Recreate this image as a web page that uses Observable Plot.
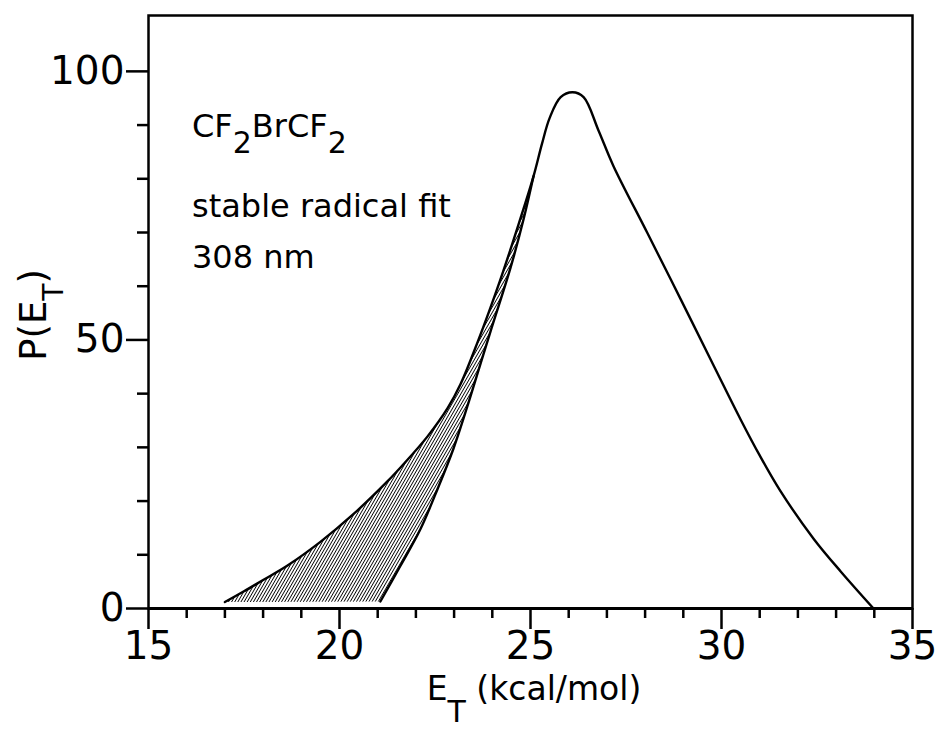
<!DOCTYPE html>
<html>
<head>
<meta charset="utf-8">
<script src="https://cdn.jsdelivr.net/npm/d3@7"></script>
<script src="https://cdn.jsdelivr.net/npm/@observablehq/plot@0.6"></script>
<style>
  html, body { margin: 0; padding: 0; background: #fff; }
</style>
</head>
<body>
<div id="chart"></div>
<script>
// Total P(E_T) curve (stable radical fit)
const upperE = [17.0, 17.5, 18.0, 18.64, 19.5, 20.37, 21.26, 21.68, 22.30, 22.83, 23.17, 23.61, 24.2, 24.7, 25.08, 25.3, 25.5, 25.79, 26.10, 26.39, 26.78, 27.17, 28.06, 28.93, 29.79, 30.5, 31.0, 31.54, 32.41, 33.12, 33.98];
const upperP = [1.2, 3.2, 5.3, 8.0, 12.4, 17.6, 23.7, 26.9, 32.0, 37.3, 41.8, 49.5, 61.0, 71.8, 80.5, 86.5, 91.3, 95.2, 96.1, 95.2, 89.0, 82.4, 69.9, 57.6, 45.3, 35.2, 28.5, 21.9, 13.0, 6.9, 0.0];
// Lower boundary of the hatched region
const lowerE = [21.07, 21.60, 22.12, 22.57, 22.98, 23.35, 23.65, 23.95, 24.48, 24.82, 25.08];
const lowerP = [1.3, 8.0, 14.8, 22.3, 29.7, 37.7, 44.6, 51.5, 63.5, 72.5, 80.5];

const xMajorTicks = [15, 20, 25, 30, 35];
const xMinorTicks = [16, 17, 18, 19, 21, 22, 23, 24, 26, 27, 28, 29, 31, 32, 33, 34];
const yMajorTicks = [0, 50, 100];
const yMinorTicks = [10, 20, 30, 40, 60, 70, 80, 90];

const upper = upperE.map((E, i) => ({E, P: upperP[i]}));
const lower = lowerE.map((E, i) => ({E, P: lowerP[i]}));
const mergeE = lowerE[lowerE.length - 1];
const hatch = upper.filter(d => d.E <= mergeE).concat(lower.slice().reverse());

const font = "'DejaVu Sans', sans-serif";

const plot = Plot.plot({
  width: 938,
  height: 740,
  marginLeft: 148,
  marginRight: 26,
  marginTop: 15,
  marginBottom: 132,
  x: {domain: [15, 35], label: null},
  y: {domain: [0, 110.4], label: null},
  style: {fontFamily: font, fontSize: "39px", color: "#000", background: "#fff", overflow: "visible"},
  marks: [
    Plot.line(hatch, {x: "E", y: "P", fill: "url(#hatch)", stroke: "none", curve: "linear"}),
    Plot.line(lower, {x: "E", y: "P", stroke: "#000", strokeWidth: 2.4, curve: "catmull-rom"}),
    Plot.line(upper, {x: "E", y: "P", stroke: "#000", strokeWidth: 2.4, curve: "catmull-rom"}),
    Plot.axisX(xMinorTicks, {tickSize: 10, strokeWidth: 2.5, fill: "none", label: null}),
    Plot.axisX(xMajorTicks, {tickSize: 21, tickPadding: 2, strokeWidth: 2.5, label: null, tickFormat: d => String(d)}),
    Plot.axisY(yMinorTicks, {tickSize: 11, strokeWidth: 2.5, fill: "none", label: null}),
    Plot.axisY(yMajorTicks, {tickSize: 22, tickPadding: 2, strokeWidth: 2.5, label: null, tickFormat: d => String(d)}),
    Plot.frame({stroke: "#000", strokeWidth: 2.5}),
    Plot.ruleY([0], {stroke: "#000", strokeWidth: 3})
  ]
});

const svg = d3.select(plot);
const defs = svg.insert("defs", ":first-child");
const pat = defs.append("pattern")
  .attr("id", "hatch")
  .attr("patternUnits", "userSpaceOnUse")
  .attr("width", 2.7)
  .attr("height", 2.7)
  .attr("patternTransform", "rotate(30)");
pat.append("line")
  .attr("x1", 1.35).attr("y1", -1).attr("x2", 1.35).attr("y2", 4)
  .attr("stroke", "#000").attr("stroke-width", 0.9);

// Annotations
const ann = svg.append("g").attr("font-family", font).attr("font-size", 32).attr("fill", "#000")
  .attr("text-anchor", "start");
const t1 = ann.append("text").attr("x", 192).attr("y", 137);
t1.append("tspan").text("CF");
t1.append("tspan").attr("dy", 16).attr("font-size", 30).text("2");
t1.append("tspan").attr("dy", -16).text("BrCF");
t1.append("tspan").attr("dy", 16).attr("font-size", 30).text("2");
ann.append("text").attr("x", 192).attr("y", 217).text("stable radical fit");
ann.append("text").attr("x", 192).attr("y", 268).text("308 nm");

// X axis label
const xl = svg.append("text").attr("font-family", font).attr("font-size", 33).attr("fill", "#000")
  .attr("text-anchor", "middle").attr("x", 534).attr("y", 700);
xl.append("tspan").text("E");
xl.append("tspan").attr("dy", 22).attr("font-size", 30).text("T");
xl.append("tspan").attr("dy", -22).text(" (kcal/mol)");

// Y axis label
const yl = svg.append("text").attr("font-family", font).attr("font-size", 37).attr("fill", "#000")
  .attr("text-anchor", "middle").attr("transform", "translate(46,315) rotate(-90)");
yl.append("tspan").text("P(E");
yl.append("tspan").attr("dy", 17).attr("font-size", 28).text("T");
yl.append("tspan").attr("dy", -17).text(")");

document.getElementById("chart").appendChild(plot);
</script>
</body>
</html>
